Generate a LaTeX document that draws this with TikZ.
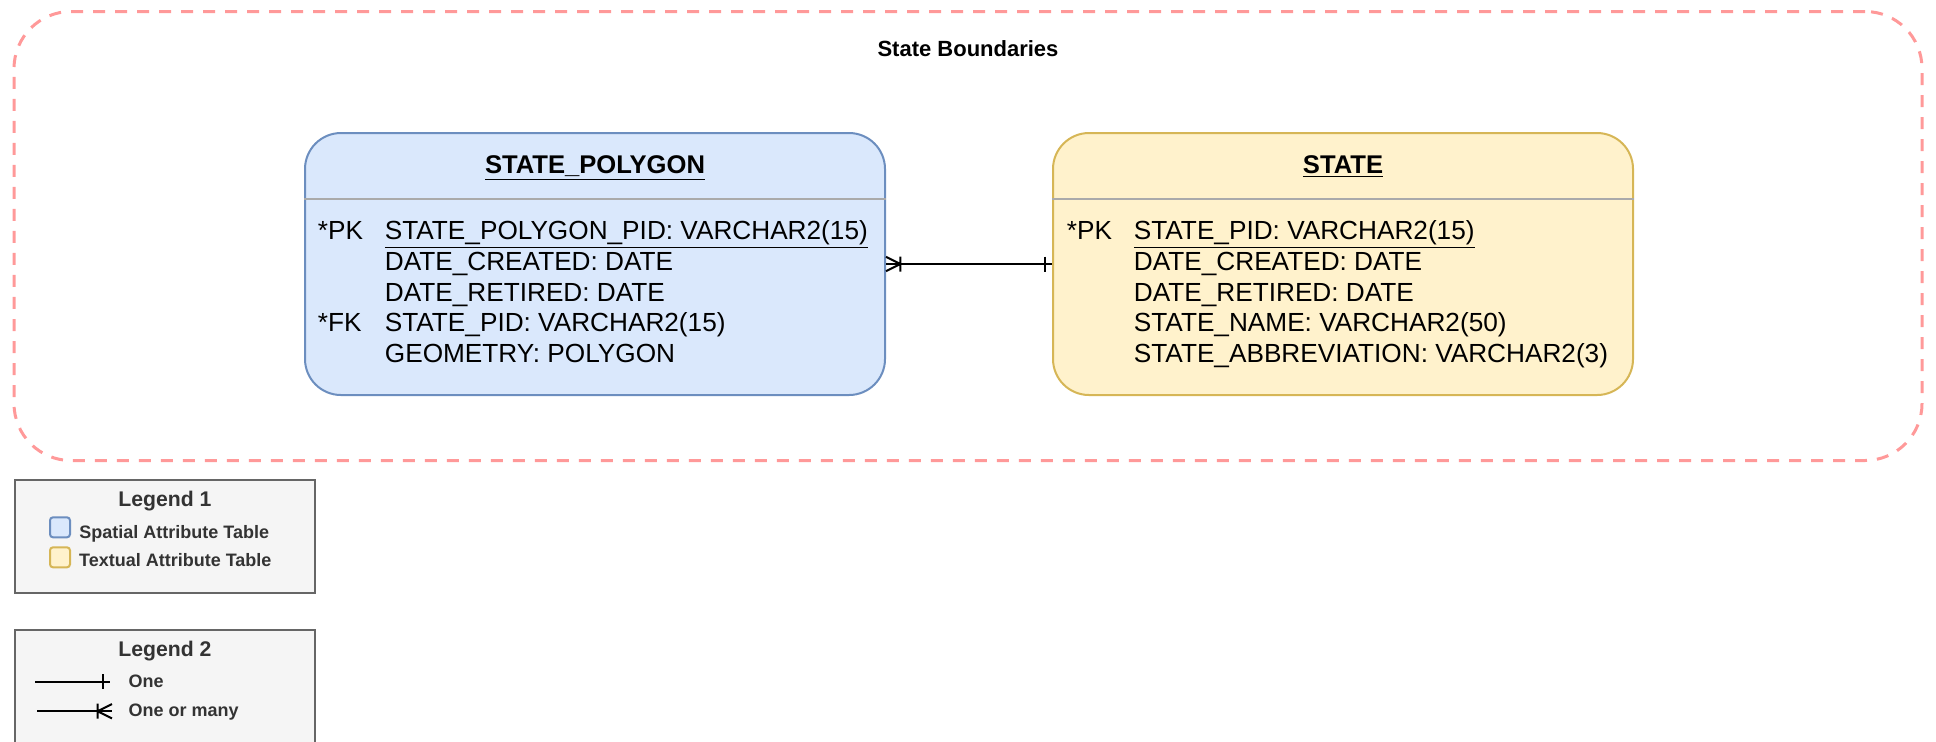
\documentclass[tikz,border=0pt]{standalone}
\usepackage{fontspec}
\setmainfont{Liberation Sans}
\usetikzlibrary{positioning}

\definecolor{spatialfill}{HTML}{DAE8FC}
\definecolor{spatialline}{HTML}{6C8EBF}
\definecolor{textualfill}{HTML}{FFF2CC}
\definecolor{textualline}{HTML}{D6B656}
\definecolor{boundline}{HTML}{FF9999}
\definecolor{legendfill}{HTML}{F5F5F5}
\definecolor{legendline}{HTML}{666666}
\definecolor{legendtext}{HTML}{333333}
\definecolor{divline}{HTML}{AAAAAA}

% ER tips: a single bar (one) and a crow's foot with a bar (one or many)
\pgfdeclarearrow{
  name = erone,
  setup code = {
    \pgfarrowssettipend{0pt}
    \pgfarrowssetlineend{0pt}
    \pgfarrowssetbackend{-4pt}
    \pgfarrowssetvisualbackend{-4pt}
    \pgfarrowshullpoint{0pt}{4pt}
    \pgfarrowshullpoint{-4pt}{-4pt}
  },
  drawing code = {
    \pgfpathmoveto{\pgfqpoint{-3.5pt}{3.75pt}}
    \pgfpathlineto{\pgfqpoint{-3.5pt}{-3.75pt}}
    \pgfusepathqstroke
  }
}
\pgfdeclarearrow{
  name = ermany,
  setup code = {
    \pgfarrowssettipend{0pt}
    \pgfarrowssetlineend{0pt}
    \pgfarrowssetbackend{-7.5pt}
    \pgfarrowssetvisualbackend{-7.5pt}
    \pgfarrowshullpoint{0pt}{4pt}
    \pgfarrowshullpoint{-7.5pt}{-4pt}
  },
  drawing code = {
    \pgfpathmoveto{\pgfqpoint{0pt}{3.6pt}}
    \pgfpathlineto{\pgfqpoint{-7.2pt}{0pt}}
    \pgfpathlineto{\pgfqpoint{0pt}{-3.6pt}}
    \pgfpathmoveto{\pgfqpoint{-7.2pt}{3.75pt}}
    \pgfpathlineto{\pgfqpoint{-7.2pt}{-3.75pt}}
    \pgfusepathqstroke
  }
}

\begin{document}
\begin{tikzpicture}[x=0.5pt, y=-0.5pt,
    entity/.style={rounded corners=18pt, line width=1pt, minimum width=290pt, minimum height=131pt, inner sep=0pt},
    spatial/.style={entity, draw=spatialline, fill=spatialfill},
    textual/.style={entity, draw=textualline, fill=textualfill},
    entitytitle/.style={anchor=base, inner sep=0pt, font=\bfseries\fontsize{12.8}{15}\selectfont},
    fields/.style={anchor=base west, inner sep=0pt, font=\fontsize{13.1}{15.35}\selectfont},
    divider/.style={draw=divline, line width=1pt},
    relation/.style={line width=1pt, line join=round},
    legendbox/.style={draw=legendline, fill=legendfill, line width=1pt, minimum width=150pt, inner sep=0pt},
    legendtitle/.style={anchor=base, inner sep=0pt, text=legendtext, font=\bfseries\fontsize{10.6}{12}\selectfont},
    legendentry/.style={anchor=base west, inner sep=0pt, text=legendtext, font=\bfseries\fontsize{9}{11}\selectfont},
    swatch/.style={minimum size=10pt, inner sep=0pt, rounded corners=1.5pt, line width=1pt}
]
    \clip (0,0) rectangle (1936,741);

    % Boundary group
    \node[draw=boundline, line width=1.5pt, dash pattern=on 6pt off 5pt, rounded corners=28.5pt,
          minimum width=954pt, minimum height=224.5pt] (bound) at (968,236) {};
    \node[anchor=base, inner sep=0pt, font=\bfseries\fontsize{11}{13}\selectfont] (boundtitle) at (968,56.7) {State Boundaries};

    % STATE_POLYGON table
    \node[spatial] (poly) at (595,264) {};
    \draw[divider] ([yshift=-33.5pt]poly.north west) -- ([yshift=-33.5pt]poly.north east);
    \node[entitytitle] (polytitle) at (595,173.3) {\underline{STATE\_POLYGON}};
    \node[fields] (polyfields) at (317.5,239.5) {\begin{tabular}[t]{@{}p{33.5pt}@{}l@{}}
        *PK & \underline{STATE\_POLYGON\_PID: VARCHAR2(15)}\\
            & DATE\_CREATED: DATE\\
            & DATE\_RETIRED: DATE\\
        {}*FK & STATE\_PID: VARCHAR2(15)\\
            & GEOMETRY: POLYGON
    \end{tabular}};

    % STATE table
    \node[textual] (state) at (1343,264) {};
    \draw[divider] ([yshift=-33.5pt]state.north west) -- ([yshift=-33.5pt]state.north east);
    \node[entitytitle] (statetitle) at (1343,173.3) {\underline{STATE}};
    \node[fields] (statefields) at (1066.5,239.5) {\begin{tabular}[t]{@{}p{33.5pt}@{}l@{}}
        *PK & \underline{STATE\_PID: VARCHAR2(15)}\\
            & DATE\_CREATED: DATE\\
            & DATE\_RETIRED: DATE\\
            & STATE\_NAME: VARCHAR2(50)\\
            & STATE\_ABBREVIATION: VARCHAR2(3)
    \end{tabular}};

    % Relation
    \draw[relation, ermany-erone] (poly) -- (state);

    % Legend 1
    \node[legendbox, minimum height=56.5pt] (legend1) at (165,536.5) {};
    \node[legendtitle] (legend1title) at (165,506.7) {Legend 1};
    \node[swatch, draw=spatialline, fill=spatialfill] (spatialkey) at (60,527.3) {};
    \node[legendentry] (spatiallabel) at (79,538.3) {Spatial Attribute Table};
    \node[swatch, draw=textualline, fill=textualfill] (textualkey) at (60,557.3) {};
    \node[legendentry] (textuallabel) at (78.7,566.7) {Textual Attribute Table};

    % Legend 2
    \node[legendbox, minimum height=80pt] (legend2) at (165,710) {};
    \node[legendtitle] (legend2title) at (165,656.7) {Legend 2};
    \coordinate (onestart) at (35,681.7);
    \coordinate (oneend) at (110,681.7);
    \draw[relation, -erone] (onestart) -- (oneend);
    \node[legendentry] (onelabel) at (128.3,687.7) {One};
    \coordinate (manystart) at (37,711.2);
    \coordinate (manyend) at (112,711.2);
    \draw[relation, -ermany] (manystart) -- (manyend);
    \node[legendentry] (manylabel) at (128.3,716.7) {One or many};
\end{tikzpicture}
\end{document}
